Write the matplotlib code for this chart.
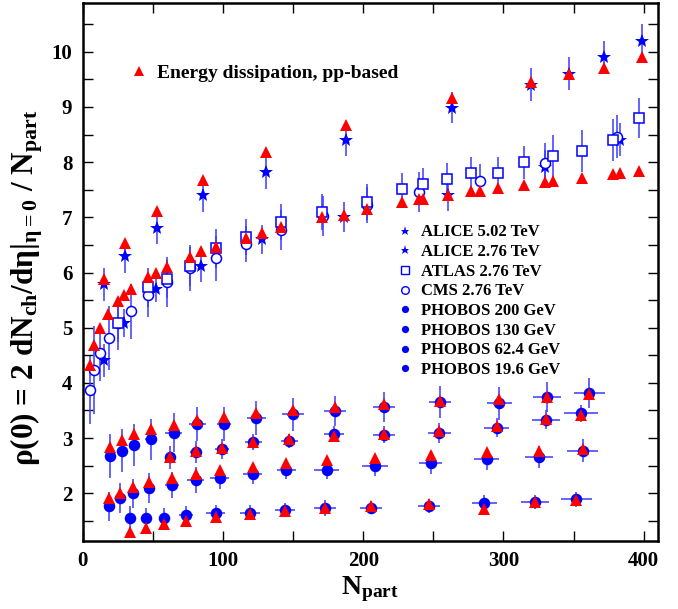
import matplotlib
matplotlib.use('Agg')
import matplotlib.pyplot as plt
from matplotlib.lines import Line2D
from matplotlib.ticker import MultipleLocator

plt.rcParams['font.family'] = ['Liberation Serif', 'DejaVu Serif']
plt.rcParams['font.weight'] = 'bold'
plt.rcParams['axes.labelweight'] = 'bold'
plt.rcParams['mathtext.fontset'] = 'custom'
plt.rcParams['mathtext.rm'] = 'Liberation Serif:bold'
plt.rcParams['mathtext.it'] = 'Liberation Serif'
plt.rcParams['mathtext.bf'] = 'Liberation Serif:bold'

# ---- data ----
# ALICE 5.02 TeV
alice502_x = [15.5, 30.5, 52.9, 85.7, 131.0, 188.1, 263.1, 319.8, 346.4, 371.9, 398.9]
alice502_y = [5.79, 6.30, 6.80, 7.40, 7.82, 8.40, 8.99, 9.40, 9.60, 9.91, 10.20]
alice502_err = [0.30, 0.30, 0.28, 0.30, 0.30, 0.29, 0.28, 0.30, 0.30, 0.29, 0.30]
ed502_y = [5.89, 6.54, 7.12, 7.68, 8.18, 8.68, 9.17, 9.46, 9.60, 9.71, 9.90]

# ALICE 2.76 TeV
alice276_x = [15.5, 29.8, 52.4, 84.6, 128.1, 186.4, 260.3, 329.8, 382.9]
alice276_y = [4.41, 5.09, 5.71, 6.11, 6.60, 7.00, 7.40, 7.92, 8.41]
alice276_err = [0.30, 0.25, 0.24, 0.28, 0.27, 0.27, 0.28, 0.30, 0.30]

# ATLAS 2.76 TeV
atlas_x = [25.0, 46.4, 60.0, 76.2, 95.3, 116.7, 141.7, 170.3, 202.9, 227.9,
           242.9, 260.0, 277.1, 296.0, 315.0, 335.0, 356.0, 378.1, 396.4]
atlas_y = [5.09, 5.73, 5.88, 6.11, 6.44, 6.64, 6.92, 7.10, 7.28, 7.51,
           7.60, 7.70, 7.80, 7.80, 8.00, 8.11, 8.20, 8.40, 8.80]
atlas_err = [0.35, 0.35, 0.35, 0.35, 0.35, 0.33, 0.33, 0.33, 0.33, 0.29,
             0.29, 0.29, 0.30, 0.30, 0.30, 0.38, 0.38, 0.38, 0.36]

# CMS 2.76 TeV
cms_x = [5.3, 8.4, 12.4, 18.4, 25.0, 34.6, 46.4, 60.0, 76.2, 95.3,
         116.7, 141.7, 171.0, 202.4, 240.0, 283.4, 329.3, 381.0]
cms_y = [3.87, 4.23, 4.54, 4.81, 5.08, 5.30, 5.59, 5.83, 6.08, 6.26,
         6.52, 6.77, 7.02, 7.22, 7.46, 7.66, 7.98, 8.46]
cms_err = [0.62, 0.80, 0.51, 0.58, 0.48, 0.50, 0.40, 0.45, 0.41, 0.41,
           0.33, 0.36, 0.36, 0.33, 0.36, 0.30, 0.36, 0.39]

# energy dissipation at 2.76 TeV
ed276_x = [5.3, 8.4, 12.4, 17.9, 25.0, 29.8, 34.6, 46.4, 52.4, 60.0, 76.2, 84.6,
           95.3, 116.7, 128.1, 141.7, 170.7, 186.4, 202.4, 227.9, 240.0, 242.9,
           260.3, 277.1, 283.4, 296.0, 315.0, 329.3, 335.0, 356.0, 378.1, 382.9, 396.4]
ed276_y = [4.32, 4.69, 4.99, 5.25, 5.49, 5.59, 5.71, 5.91, 6.00, 6.10, 6.29, 6.39,
           6.47, 6.62, 6.71, 6.83, 7.00, 7.05, 7.16, 7.28, 7.33, 7.33,
           7.40, 7.48, 7.48, 7.54, 7.59, 7.64, 7.66, 7.72, 7.78, 7.80, 7.84]

# PHOBOS 200 GeV
p200_x = [19.6, 27.9, 36.4, 48.4, 65.0, 81.7, 100.7, 123.8, 150.0, 179.8, 214.8, 254.8, 297.1, 331.0, 361.2]
p200_y = [2.68, 2.77, 2.87, 2.98, 3.10, 3.25, 3.25, 3.37, 3.43, 3.49, 3.57, 3.65, 3.63, 3.75, 3.81]
p200_yerr = [0.40, 0.39, 0.38, 0.37, 0.36, 0.31, 0.31, 0.31, 0.30, 0.27, 0.27, 0.29, 0.30, 0.27, 0.27]
p200_xerr = [2, 3, 3, 4, 6, 6, 5, 7, 8, 8, 8, 8, 9, 10, 11]
ed200_y = [2.84, 2.97, 3.07, 3.16, 3.24, 3.32, 3.39, 3.45, 3.51, 3.57, 3.62, 3.67, 3.70, 3.75, 3.79]

# PHOBOS 130 GeV
p130_x = [62.6, 80.6, 99.5, 121.5, 147.2, 179.3, 214.8, 254.3, 295.2, 330.5, 355.5]
p130_y = [2.65, 2.75, 2.80, 2.93, 2.95, 3.07, 3.06, 3.09, 3.19, 3.33, 3.45]
p130_yerr = [0.21, 0.20, 0.18, 0.15, 0.13, 0.15, 0.15, 0.18, 0.17, 0.17, 0.15]
p130_xerr = [4, 4, 5, 6, 6, 7, 8, 8, 9, 10, 12]
ed130_y = [2.66, 2.77, 2.82, 2.93, 2.98, 3.03, 3.07, 3.13, 3.21, 3.34, 3.42]

# PHOBOS 62.4 GeV
p62_x = [18.6, 26.7, 35.7, 47.6, 63.6, 80.5, 97.6, 121.2, 145.3, 173.9, 208.4, 248.1, 288.0, 325.4, 356.4]
p62_y = [1.76, 1.91, 2.00, 2.10, 2.15, 2.24, 2.27, 2.34, 2.43, 2.43, 2.49, 2.54, 2.62, 2.66, 2.77]
p62_yerr = [0.27, 0.27, 0.26, 0.27, 0.23, 0.24, 0.20, 0.18, 0.18, 0.17, 0.17, 0.20, 0.19, 0.20, 0.21]
p62_xerr = [2, 2, 3, 4, 5, 6, 7, 7, 7, 9, 9, 8, 9, 10, 11]
ed62_y = [1.92, 2.00, 2.12, 2.21, 2.28, 2.34, 2.42, 2.48, 2.54, 2.60, 2.63, 2.69, 2.74, 2.77, 2.80]

# PHOBOS 19.6 GeV
p19_x = [33.9, 45.3, 57.9, 73.9, 94.8, 119.1, 144.1, 172.9, 205.5, 247.1, 286.4, 322.2, 351.9]
p19_y = [1.55, 1.55, 1.56, 1.61, 1.64, 1.65, 1.70, 1.73, 1.74, 1.77, 1.83, 1.84, 1.89]
p19_yerr = [0.21, 0.18, 0.17, 0.16, 0.15, 0.13, 0.12, 0.14, 0.12, 0.12, 0.14, 0.13, 0.14]
p19_xerr = [2, 2, 3, 5, 7, 7, 7, 8, 8, 8, 9, 10, 11]
ed19_y = [1.29, 1.37, 1.44, 1.50, 1.57, 1.62, 1.68, 1.73, 1.76, 1.80, 1.71, 1.85, 1.88]

blue = '#0000ff'
red = '#ff0000'
barc = '#3a3aff'

fig = plt.figure(figsize=(6.78, 6.09), dpi=100)
ax = fig.add_axes([82.7/678, 1 - 540.7/609, 575/678, 538/609])


def bars(x, y, yerr, xerr=None):
    ax.errorbar(x, y, yerr=yerr, xerr=xerr, fmt='none', ecolor=barc,
                elinewidth=1.1, capsize=0, zorder=2)


bars(alice502_x, alice502_y, alice502_err)
bars(alice276_x, alice276_y, alice276_err)
bars(atlas_x, atlas_y, atlas_err)
bars(cms_x, cms_y, cms_err)
bars(p200_x, p200_y, p200_yerr, p200_xerr)
bars(p130_x, p130_y, p130_yerr, p130_xerr)
bars(p62_x, p62_y, p62_yerr, p62_xerr)
bars(p19_x, p19_y, p19_yerr, p19_xerr)

ax.plot(alice502_x, alice502_y, ls='none', marker='*', ms=10, color=blue, mew=0, zorder=3)
ax.plot(alice276_x, alice276_y, ls='none', marker='*', ms=10, color=blue, mew=0, zorder=3)
ax.plot(cms_x, cms_y, ls='none', marker='o', ms=7.2, mfc='white', mec=blue, mew=1.1, zorder=3)
ax.plot(atlas_x, atlas_y, ls='none', marker='s', ms=7.2, mfc='white', mec=blue, mew=1.1, zorder=3)
for px, py in [(p200_x, p200_y), (p130_x, p130_y), (p62_x, p62_y), (p19_x, p19_y)]:
    ax.plot(px, py, ls='none', marker='o', ms=8.3, color=blue, mew=0, zorder=3)

# energy dissipation, pp-based
for ex, ey in [(alice502_x, ed502_y), (ed276_x, ed276_y), (p200_x, ed200_y),
               (p130_x, ed130_y), (p62_x, ed62_y), (p19_x, ed19_y)]:
    ax.plot(ex, ey, ls='none', marker='^', ms=8.0, color=red, mew=0, zorder=4)

ax.set_xlim(0, 410)
ax.set_ylim(1.14, 10.89)
ax.xaxis.set_major_locator(MultipleLocator(100))
ax.xaxis.set_minor_locator(MultipleLocator(50))
ax.yaxis.set_major_locator(MultipleLocator(1))
ax.yaxis.set_minor_locator(MultipleLocator(0.5))
ax.tick_params(which='both', direction='in', length=7, width=1, top=True, right=True,
               labelsize=15, pad=7.5)
for s in ax.spines.values():
    s.set_linewidth(1.8)

ax.set_xlabel(r'N$_{\rm part}$', fontsize=20, fontweight='bold', va='top')
ax.xaxis.set_label_coords(0.5, -0.062)
ax.set_ylabel(r'$\rho$(0) = 2 dN$_{\rm ch}$/d$\eta$|$_{\eta=0}$ / N$_{\rm part}$',
              fontsize=22.5, fontweight='bold', va='center')
ax.yaxis.set_label_coords(-0.097, 0.47)

h_ed = Line2D([], [], ls='none', marker='^', color=red, ms=7.5, mew=0)
leg1 = ax.legend([h_ed], ['Energy dissipation, pp-based'], loc='center left',
                 bbox_to_anchor=(0.081, 0.869), frameon=False, fontsize=14,
                 handlelength=1.0, handletextpad=0.43, borderpad=0, borderaxespad=0)
ax.add_artist(leg1)

handles = [
    Line2D([], [], ls='none', marker='*', color=blue, ms=6.5, mew=0),
    Line2D([], [], ls='none', marker='*', color=blue, ms=6.5, mew=0),
    Line2D([], [], ls='none', marker='s', mfc='white', mec=blue, ms=5.5, mew=1),
    Line2D([], [], ls='none', marker='o', mfc='white', mec=blue, ms=5.5, mew=1),
    Line2D([], [], ls='none', marker='o', color=blue, ms=5.2, mew=0),
    Line2D([], [], ls='none', marker='o', color=blue, ms=5.2, mew=0),
    Line2D([], [], ls='none', marker='o', color=blue, ms=5.2, mew=0),
    Line2D([], [], ls='none', marker='o', color=blue, ms=5.2, mew=0),
]
labels = ['ALICE 5.02 TeV', 'ALICE 2.76 TeV', 'ATLAS 2.76 TeV', 'CMS 2.76 TeV',
          'PHOBOS 200 GeV', 'PHOBOS 130 GeV', 'PHOBOS 62.4 GeV', 'PHOBOS 19.6 GeV']
ax.legend(handles, labels, loc='center left', bbox_to_anchor=(0.546, 0.445),
          frameon=False, fontsize=12, handlelength=1.0, handletextpad=0.44,
          labelspacing=0.22, borderpad=0, borderaxespad=0)

fig.savefig('out.png', dpi=100)
